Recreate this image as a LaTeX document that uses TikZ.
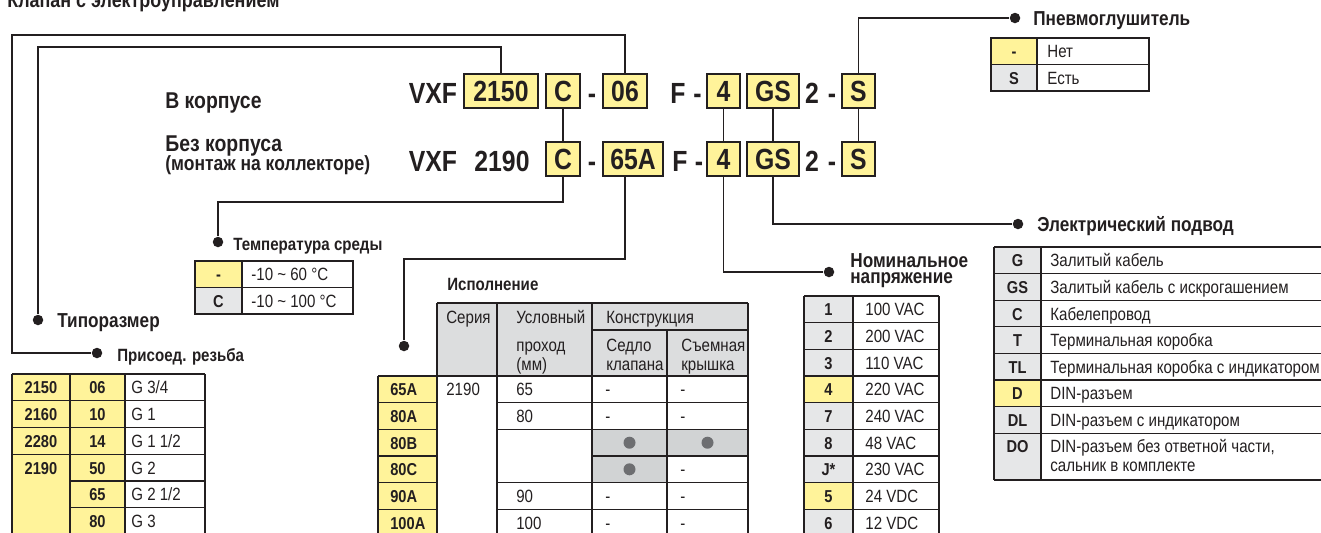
\documentclass[tikz,border=0pt]{standalone}
\usepackage{fontspec}
\setmainfont[FakeStretch=0.85]{Liberation Sans}
\usetikzlibrary{positioning, calc}

\definecolor{ink}{HTML}{231F20}
\definecolor{yel}{HTML}{FFF39A}
\definecolor{gry}{HTML}{E6E7E8}
\definecolor{hdr}{HTML}{DCDDDE}
\definecolor{cellg}{HTML}{D1D3D4}
\definecolor{dotg}{HTML}{6D6E71}

\newcommand{\pxu}{0.02cm}
\newcommand{\codefont}{\bfseries\fontsize{16.6}{18}\selectfont}
\newcommand{\headfont}{\bfseries\fontsize{11.5}{13}\selectfont}
\newcommand{\subfont}{\bfseries\fontsize{10.1}{12}\selectfont}
\newcommand{\cellfont}{\fontsize{10.1}{12}\selectfont}
\newcommand{\cellbfont}{\bfseries\fontsize{9.8}{12}\selectfont}

\tikzstyle{conn} = [ink, line width=0.7pt]
\tikzstyle{tline} = [ink, line width=0.75pt]
\tikzstyle{codebox} = [draw=ink, fill=yel, line width=0.75pt, inner sep=0pt, minimum height=34*\pxu, font=\codefont, text=ink]
\tikzstyle{codetxt} = [anchor=base, inner sep=0pt, font=\codefont, text=ink]
\tikzstyle{dot} = [circle, fill=ink, inner sep=0pt, minimum size=10.5*\pxu]
\tikzstyle{graydot} = [circle, fill=dotg, inner sep=0pt, minimum size=12*\pxu]
\tikzstyle{head} = [anchor=base west, inner sep=0pt, font=\headfont, text=ink]
\tikzstyle{subhead} = [anchor=base west, inner sep=0pt, font=\subfont, text=ink]
\tikzstyle{rowlabel} = [anchor=base west, inner sep=0pt, font=\bfseries\fontsize{13}{15}\selectfont, text=ink]
\tikzstyle{cellt} = [anchor=base west, inner sep=0pt, font=\cellfont, text=ink]
\tikzstyle{cellc} = [anchor=base, inner sep=0pt, font=\cellfont, text=ink]
\tikzstyle{cellb} = [anchor=base, inner sep=0pt, font=\cellbfont, text=ink]

\begin{document}
\begin{tikzpicture}[x=\pxu, y=-\pxu]
\useasboundingbox (0,0) rectangle (1321,532);
\clip (0,0) rectangle (1321,532);

% Title (cut at the top)
\node[anchor=base west, inner sep=0pt, font=\bfseries\fontsize{12}{14}\selectfont, text=ink] (title) at (7,7) {Клапан с электроуправлением};

% Row labels
\node[rowlabel] (inbody) at (165,108) {В корпусе};
\node[rowlabel] (nobody) at (165,151) {Без корпуса};
\node[rowlabel, font=\bfseries\fontsize{11.7}{14}\selectfont] (manifold) at (165,170) {(монтаж на коллекторе)};

% Code, first row
\node[codetxt] (vxfA) at (433,103) {VXF};
\node[codebox, minimum width=74*\pxu] (b2150) at (501,91) {2150};
\node[codebox, minimum width=34*\pxu] (tC) at (563,91) {C};
\node[codetxt] (dashA1) at (592,103) {-};
\node[codebox, minimum width=44*\pxu] (t06) at (625,91) {06};
\node[codetxt] (fA) at (678,103) {F};
\node[codetxt] (dashA2) at (697.5,103) {-};
\node[codebox, minimum width=33*\pxu] (t4) at (723.5,91) {4};
\node[codebox, minimum width=52*\pxu] (tGS) at (773,91) {GS};
\node[codetxt] (twoA) at (812,103) {2};
\node[codetxt] (dashA3) at (832,103) {-};
\node[codebox, minimum width=33*\pxu] (tS) at (858.5,91) {S};

% Code, second row
\node[codetxt] (vxfB) at (433,171) {VXF};
\node[codetxt] (b2190) at (502,171) {2190};
\node[codebox, minimum width=34*\pxu] (bC) at (563,159) {C};
\node[codetxt] (dashB1) at (592,171) {-};
\node[codebox, minimum width=60*\pxu] (bA65) at (633,159) {65A};
\node[codetxt] (fB) at (680,171) {F};
\node[codetxt] (dashB2) at (699,171) {-};
\node[codebox, minimum width=33*\pxu] (b4) at (723.5,159) {4};
\node[codebox, minimum width=52*\pxu] (bGS) at (773,159) {GS};
\node[codetxt] (twoB) at (812,171) {2};
\node[codetxt] (dashB3) at (832,171) {-};
\node[codebox, minimum width=33*\pxu] (bS) at (858.5,159) {S};

% Dots and their labels
\node[dot] (dPn) at (1015,18) {};
\node[head] (lPn) at (1033,25) {Пневмоглушитель};
\node[dot] (dEl) at (1018,224) {};
\node[head] (lEl) at (1037,231) {Электрический подвод};
\node[dot] (dNom) at (829,272) {};
\node[head] (lNom) at (850,267) {Номинальное};
\node[head] (lNom2) at (850,283) {напряжение};
\node[dot] (dTemp) at (218,242) {};
\node[subhead] (lTemp) at (233,250) {Температура среды};
\node[dot] (dIsp) at (404,346) {};
\node[subhead] (lIsp) at (447,290) {Исполнение};
\node[dot] (dTip) at (38,320) {};
\node[head] (lTip) at (57,327) {Типоразмер};
\node[dot] (dRez) at (97,353) {};
\node[subhead] (lRez) at (117,361) {Присоед. резьба};

% Connectors
\coordinate (kTip) at (38,47);
\coordinate (kRez) at (12,35);
\coordinate (kTemp) at (218,202);
\coordinate (kIsp) at (404,259);
\draw[conn] (b2150.north) |- (kTip) -- (dTip);
\draw[conn] (t06.north) |- (kRez) |- (dRez);
\draw[conn] (tC.south) -- (bC.north);
\draw[conn] (bC.south) |- (kTemp) -- (dTemp);
\draw[conn] (t06 |- bA65.south) |- (kIsp) -- (dIsp);
\draw[conn] (t4.south) -- (b4.north);
\draw[conn] (b4.south) |- (dNom);
\draw[conn] (tGS.south) -- (bGS.north);
\draw[conn] (bGS.south) |- (dEl);
\draw[conn] (tS.south) -- (bS.north);
\draw[conn] (tS.north) |- (dPn);

% Пневмоглушитель table
\fill[yel] (991,38) rectangle (1037,64.5);
\fill[gry] (991,64.5) rectangle (1037,91);
\draw[tline] (991,38) rectangle (1149,91);
\draw[tline] (1037,38) -- (1037,91);
\draw[tline] (991,64.5) -- (1149,64.5);
\node[cellb] (pn1) at (1014,57.5) {-};
\node[cellt] (pnt1) at (1047,57.5) {Нет};
\node[cellb] (pn2) at (1014,84) {S};
\node[cellt] (pnt2) at (1047,84) {Есть};

% Температура среды table
\fill[yel] (195,261) rectangle (242,287.5);
\fill[gry] (195,287.5) rectangle (242,314);
\draw[tline] (195,261) rectangle (353,314);
\draw[tline] (242,261) -- (242,314);
\draw[tline] (195,287.5) -- (353,287.5);
\node[cellb] (tp1) at (218.5,280.5) {-};
\node[cellt] (tpt1) at (251,280.5) {-10 \textasciitilde{} 60 °C};
\node[cellb] (tp2) at (218.5,307) {C};
\node[cellt] (tpt2) at (251,307) {-10 \textasciitilde{} 100 °C};

% Присоед. резьба table
\fill[yel] (12,374) rectangle (125,540);
\foreach \y in {374,400.75,427.5,454.25} \draw[tline] (12,\y) -- (205,\y);
\foreach \y in {481,507.75} \draw[tline] (70,\y) -- (205,\y);
\foreach \x in {12,70,125,205} \draw[tline] (\x,374) -- (\x,540);
\foreach \s [count=\i] in {2150,2160,2280,2190}
  \node[cellb] (rzA\i) at (41,{374+26.75*\i-6.9}) {\s};
\foreach \p/\g [count=\i] in {06/G 3\slash 4,10/G 1,14/G 1 1\slash 2,50/G 2,65/G 2 1\slash 2,80/G 3} {
  \node[cellb] (rzB\i) at (97.5,{374+26.75*\i-6.9}) {\p};
  \node[cellt] (rzC\i) at (131,{374+26.75*\i-6.9}) {\g};
}

% Исполнение table
\fill[hdr] (437,303) rectangle (748,376);
\fill[yel] (378,376) rectangle (437,540);
\fill[cellg] (592,429.3) rectangle (748,456);
\fill[cellg] (592,456) rectangle (667,482.7);
\draw[tline] (437,303) -- (748,303);
\draw[tline] (592,330) -- (748,330);
\draw[tline] (378,376) -- (748,376);
\draw[tline] (378,376) -- (378,540);
\foreach \x in {437,497,592,748} \draw[tline] (\x,303) -- (\x,540);
\draw[tline] (667,330) -- (667,540);
\foreach \y in {402.7,429.3,482.7,509.3} \draw[tline] (497,\y) -- (748,\y);
\draw[tline] (592,456) -- (748,456);
\foreach \y in {402.7,429.3,456,482.7,509.3} \draw[tline] (378,\y) -- (437,\y);
\node[cellt] (hSer) at (446,323) {Серия};
\node[cellt] (hDn) at (516,323) {Условный};
\node[cellt] (hDn2) at (516,351) {проход};
\node[cellt] (hDn3) at (516,370) {(мм)};
\node[cellt] (hKon) at (606,323) {Конструкция};
\node[cellt] (hSed) at (606,351) {Седло};
\node[cellt] (hSed2) at (606,370) {клапана};
\node[cellt] (hKr) at (681,351) {Съемная};
\node[cellt] (hKr2) at (681,370) {крышка};
\foreach \c [count=\i] in {65A,80A,80B,80C,90A,100A}
  \node[cellb, anchor=base west] (isA\i) at (390,{376+26.67*\i-6.8}) {\c};
\node[cellt] (isSer) at (446,{376+26.67-6.8}) {2190};
\foreach \d/\i in {65/1,80/2,90/5,100/6}
  \node[cellt] (isD\i) at (516,{376+26.67*\i-6.8}) {\d};
\foreach \i in {1,2,5,6} {
  \node[cellc] (isS\i) at (608,{376+26.67*\i-6.8}) {-};
  \node[cellc] (isK\i) at (683,{376+26.67*\i-6.8}) {-};
}
\node[cellc] (isK4) at (683,{376+26.67*4-6.8}) {-};
\node[graydot] (isS3) at (629.5,442.7) {};
\node[graydot] (isK3) at (707.5,442.7) {};
\node[graydot] (isS4) at (629.5,469.3) {};

% Номинальное напряжение table
\fill[gry] (804,296) rectangle (853,540);
\fill[yel] (804,376) rectangle (853,402.7);
\fill[yel] (804,482.7) rectangle (853,509.3);
\foreach \x in {804,853,939} \draw[tline] (\x,296) -- (\x,540);
\foreach \i in {0,...,8} \draw[tline] (804,{296+26.67*\i}) -- (939,{296+26.67*\i});
\foreach \c/\v [count=\i] in {1/100 VAC,2/200 VAC,3/110 VAC,4/220 VAC,7/240 VAC,8/48 VAC,J*/230 VAC,5/24 VDC,6/12 VDC} {
  \node[cellb] (nmA\i) at (828.5,{296+26.67*\i-6.8}) {\c};
  \node[cellt] (nmB\i) at (865,{296+26.67*\i-6.8}) {\v};
}

% Электрический подвод table
\fill[gry] (994,247) rectangle (1041,480);
\fill[yel] (994,380) rectangle (1041,406.6);
\foreach \x in {994,1041} \draw[tline] (\x,247) -- (\x,480);
\foreach \i in {0,...,7} \draw[tline] (994,{247+26.6*\i}) -- (1330,{247+26.6*\i});
\draw[tline] (994,480) -- (1330,480);
\foreach \c/\v [count=\i] in {G/Залитый кабель,GS/Залитый кабель с искрогашением,C/Кабелепровод,T/Терминальная коробка,TL/Терминальная коробка с индикатором,D/DIN-разъем,DL/DIN-разъем с индикатором} {
  \node[cellb] (elA\i) at (1017.5,{247+26.6*\i-6.8}) {\c};
  \node[cellt] (elB\i) at (1050,{247+26.6*\i-6.8}) {\v};
}
\node[cellb] (elA8) at (1017.5,452) {DO};
\node[cellt] (elB8) at (1050,452) {DIN-разъем без ответной части,};
\node[cellt] (elC8) at (1050,471) {сальник в комплекте};
\end{tikzpicture}
\end{document}
